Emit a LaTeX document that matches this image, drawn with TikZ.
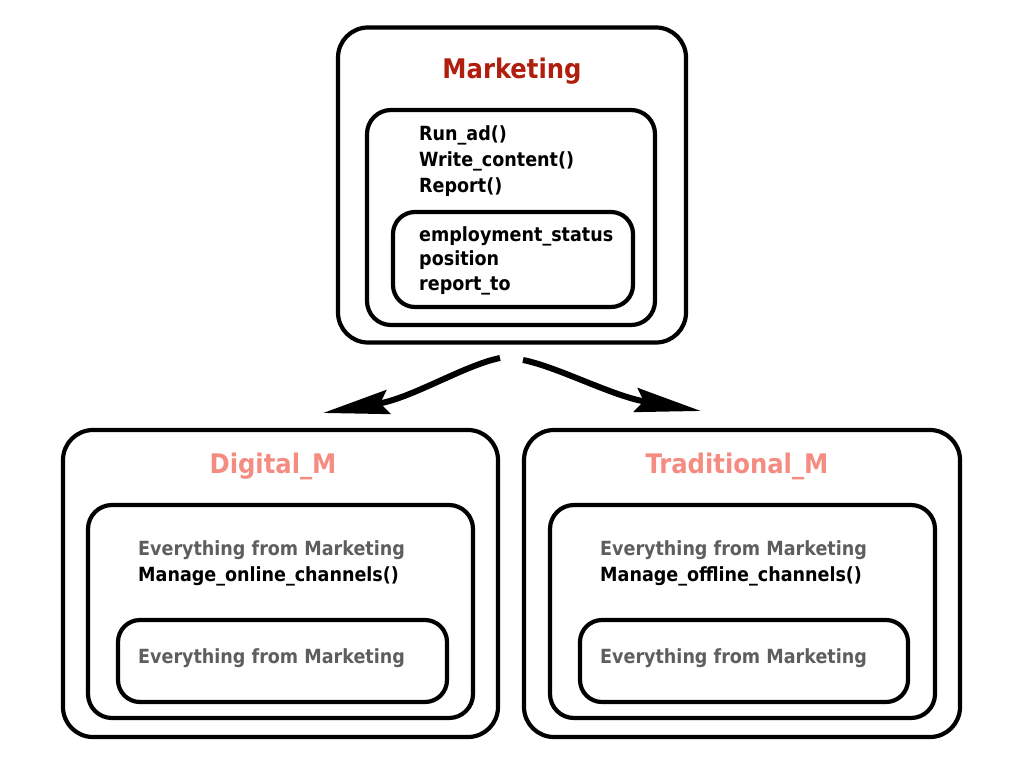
\documentclass[tikz,border=0pt]{standalone}
\usepackage{fontspec}
\setmainfont{DejaVu Sans Condensed}[BoldFont={DejaVu Sans Condensed Bold}]
\usepackage{tikz}
\usetikzlibrary{arrows.meta, positioning}
\definecolor{mktred}{HTML}{B01E0E}
\definecolor{subpink}{HTML}{F58C82}
\definecolor{inhgray}{HTML}{5E5E5E}
\tikzset{
  classbox/.style = {
    rectangle,
    rounded corners=30pt,
    draw=black,
    line width=4.2pt
  },
  membox/.style = {
    classbox,
    rounded corners=24pt
  },
  attrbox/.style = {
    classbox,
    rounded corners=22pt
  },
  title/.style = {
    font=\bfseries\fontsize{27}{30}\selectfont,
    inner sep=0pt
  },
  members/.style = {
    font=\bfseries\fontsize{19.5}{26}\selectfont,
    align=left,
    anchor=west,
    inner sep=0pt
  },
  inherit/.style = {
    arrows={-Stealth[length=66pt, width=24pt, inset=8pt]},
    line width=6pt,
    draw=black
  }
}
\begin{document}
\begin{tikzpicture}[x=1pt, y=-1pt]
\useasboundingbox (0,0) rectangle (1024,768);

% ===== Classe base =====
\node (mkt) [classbox, minimum width=348pt, minimum height=315pt] at (512,185) {};
\node (mktm) [membox, minimum width=288pt, minimum height=215pt] at (511,217.5) {};
\node (mkta) [attrbox, minimum width=240pt, minimum height=95pt] at (513,259.5) {};
\node (mktt) [title, text=mktred] at (512,71) {Marketing};
\node (mktmt) [members] at (419,161) {Run\_ad()\\Write\_content()\\Report()};
\node (mktat) [members, font=\bfseries\fontsize{19.5}{24.5}\selectfont] at (419,260.5) {employment\_status\\position\\report\_to};

% ===== Subclasse esquerda =====
\node (dig) [classbox, minimum width=435pt, minimum height=307pt] at (280.5,583.5) {};
\node (digm) [membox, minimum width=385pt, minimum height=213pt] at (280.5,611.5) {};
\node (diga) [attrbox, minimum width=329pt, minimum height=82pt] at (282.5,661) {};
\node (digt) [title, text=subpink] at (273,466) {Digital\_M};
\node (digmt) [members] at (138,563.5) {\textcolor{inhgray}{Everything from Marketing}\\Manage\_online\_channels()};
\node (digat) [members, text=inhgray] at (138,658) {Everything from Marketing};

% ===== Subclasse direita =====
\node (trad) [classbox, minimum width=436pt, minimum height=307pt] at (742,583.5) {};
\node (tradm) [membox, minimum width=385pt, minimum height=213pt] at (742.5,611.5) {};
\node (trada) [attrbox, minimum width=328pt, minimum height=82pt] at (744,661) {};
\node (tradt) [title, text=subpink] at (737,466) {Traditional\_M};
\node (tradmt) [members] at (600,563.5) {\textcolor{inhgray}{Everything from Marketing}\\Manage\_offline\_channels()};
\node (tradat) [members, text=inhgray] at (600,658) {Everything from Marketing};

% ===== Setas (heranca) =====
\coordinate (fromL) at (500,358);
\coordinate (toL) at (323,413);
\coordinate (fromR) at (523,360);
\coordinate (toR) at (701,411);
\draw [inherit] (fromL) .. controls (465,365) and (412,398) .. (toL);
\draw [inherit] (fromR) .. controls (558,367) and (612,396) .. (toR);

\end{tikzpicture}
\end{document}
